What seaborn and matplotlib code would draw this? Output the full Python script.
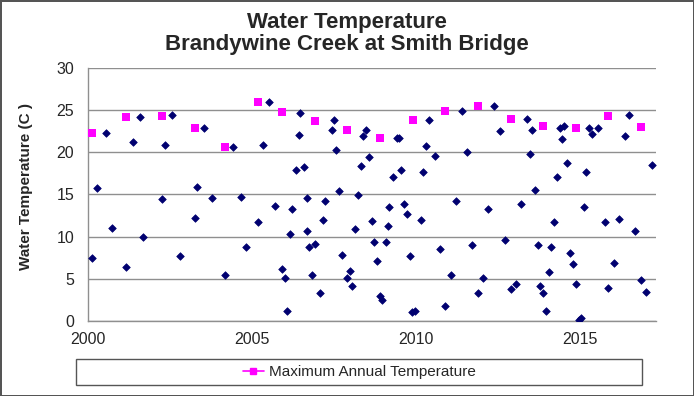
"""Water temperature scatter: Brandywine Creek at Smith Bridge."""

import matplotlib
matplotlib.use("Agg")
import matplotlib.pyplot as plt
import seaborn as sns
from matplotlib.lines import Line2D
from matplotlib.patches import Rectangle
from matplotlib.ticker import MultipleLocator

# individual samples (decimal year, deg C)
sample_year = [
    2000.12, 2000.27, 2000.54, 2000.74, 2001.16, 2001.37, 2001.59, 2001.69,
    2002.26, 2002.35, 2002.55, 2002.80, 2003.26, 2003.32, 2003.55, 2003.77,
    2004.17, 2004.41, 2004.66, 2004.82, 2005.19, 2005.34, 2005.52, 2005.70,
    2005.91, 2006.02, 2006.07, 2006.16, 2006.23, 2006.33, 2006.42, 2006.47,
    2006.59, 2006.67, 2006.69, 2006.74, 2006.83, 2006.92, 2007.06, 2007.16,
    2007.23, 2007.43, 2007.50, 2007.57, 2007.65, 2007.74, 2007.91, 2008.00,
    2008.06, 2008.15, 2008.24, 2008.31, 2008.40, 2008.48, 2008.57, 2008.67,
    2008.72, 2008.80, 2008.90, 2008.98, 2009.08, 2009.14, 2009.19, 2009.31,
    2009.43, 2009.48, 2009.56, 2009.65, 2009.74, 2009.81, 2009.89, 2009.98,
    2010.14, 2010.21, 2010.31, 2010.40, 2010.57, 2010.72, 2010.88, 2011.06,
    2011.23, 2011.39, 2011.55, 2011.71, 2011.88, 2012.06, 2012.20, 2012.39,
    2012.55, 2012.72, 2012.89, 2013.04, 2013.21, 2013.38, 2013.48, 2013.55,
    2013.62, 2013.71, 2013.78, 2013.87, 2013.97, 2014.06, 2014.12, 2014.22,
    2014.29, 2014.38, 2014.46, 2014.53, 2014.61, 2014.70, 2014.78, 2014.89,
    2014.96, 2015.02, 2015.12, 2015.20, 2015.28, 2015.37, 2015.55, 2015.77,
    2015.86, 2016.03, 2016.19, 2016.39, 2016.51, 2016.69, 2016.86, 2017.03,
    2017.19,
]
sample_temp = [
    7.5, 15.7, 22.3, 11.0, 6.4, 21.2, 24.2, 9.9,
    14.4, 20.8, 24.4, 7.7, 12.2, 15.9, 22.9, 14.5,
    5.5, 20.6, 14.7, 8.7, 11.7, 20.8, 25.9, 13.6,
    6.1, 5.05, 1.2, 10.3, 13.2, 17.9, 22.0, 24.65,
    18.2, 14.5, 10.7, 8.8, 5.4, 9.1, 3.35, 12.0,
    14.2, 22.6, 23.75, 20.2, 15.4, 7.85, 5.05, 5.9,
    4.2, 10.85, 14.9, 18.4, 21.9, 22.6, 19.4, 11.8,
    9.3, 7.1, 2.95, 2.5, 9.3, 11.3, 13.5, 17.1,
    21.7, 21.6, 17.9, 13.9, 12.7, 7.65, 1.05, 1.2,
    11.95, 17.6, 20.7, 23.8, 19.5, 8.5, 1.8, 5.4,
    14.2, 24.9, 20.0, 8.95, 3.35, 5.1, 13.25, 25.5,
    22.45, 9.55, 3.75, 4.35, 13.9, 23.9, 19.8, 22.6,
    15.5, 9.0, 4.2, 3.3, 1.15, 5.85, 8.8, 11.7,
    17.1, 22.8, 21.5, 23.1, 18.7, 8.05, 6.7, 4.4,
    0.1, 0.3, 13.55, 17.6, 22.8, 22.1, 22.8, 11.7,
    3.95, 6.9, 12.1, 21.9, 24.35, 10.65, 4.9, 3.45,
    18.5,
]

# maximum annual temperature
max_year = [
    2000.13, 2001.17, 2002.27, 2003.26, 2004.18, 2005.19, 2005.91, 2006.92,
    2007.90, 2008.91, 2009.90, 2010.90, 2011.90, 2012.90, 2013.88, 2014.89,
    2015.87, 2016.87,
]
max_temp = [
    22.3, 24.1, 24.3, 22.9, 20.6, 25.9, 24.7, 23.7,
    22.6, 21.7, 23.8, 24.9, 25.5, 23.9, 23.1, 22.8,
    24.3, 23.0,
]

NAVY = "#000070"
MAGENTA = "#FF00FF"
GRID = "#8f8f8f"

sns.set_style("white")
plt.rcParams["font.family"] = ["Liberation Sans", "DejaVu Sans"]

fig = plt.figure(figsize=(6.94, 3.96), dpi=100)
fig.patch.set_edgecolor("#555555")
fig.patch.set_linewidth(2)
ax = fig.add_axes([0.1268, 0.1894, 0.8184, 0.6401])

sns.scatterplot(x=sample_year, y=sample_temp, ax=ax, marker="D", s=15,
                color=NAVY, edgecolor=NAVY, linewidth=0.5, zorder=3)
sns.scatterplot(x=max_year, y=max_temp, ax=ax, marker="s", s=36,
                color=MAGENTA, edgecolor=MAGENTA, linewidth=0, zorder=4)

ax.set_xlim(2000, 2017.32)
ax.set_ylim(0, 30)
ax.xaxis.set_major_locator(MultipleLocator(5))
ax.xaxis.set_minor_locator(MultipleLocator(1))
ax.yaxis.set_major_locator(MultipleLocator(5))
ax.yaxis.set_minor_locator(MultipleLocator(1))
ax.grid(axis="y", which="major", color=GRID, linewidth=1)
ax.set_axisbelow(True)

for side in ["top", "right"]:
    ax.spines[side].set_visible(False)
for side in ["left", "bottom"]:
    ax.spines[side].set_color(GRID)
    ax.spines[side].set_linewidth(1)

ax.tick_params(axis="x", which="major", direction="inout", length=8,
               color=GRID, labelsize=11.5, pad=4)
ax.tick_params(axis="x", which="minor", direction="out", length=3, color=GRID)
ax.tick_params(axis="y", which="major", direction="out", length=6,
               color=GRID, labelsize=11.5, pad=4)
ax.tick_params(axis="y", which="minor", direction="in", length=3, color=GRID)

ax.set_ylabel("Water Temperature (C )", fontsize=11, fontweight="bold")
ax.yaxis.set_label_coords(-0.097, 0.532)

fig.suptitle("Water Temperature\nBrandywine Creek at Smith Bridge",
             y=1 - 33.5 / 396, va="center", fontsize=16, fontweight="bold",
             linespacing=1.12)

# legend box spanning the width under the axis
box = [76 / 694, 1 - 385 / 396, 566 / 694, 26 / 396]
fig.patches.append(Rectangle((box[0], box[1]), box[2], box[3],
                             transform=fig.transFigure, fill=False,
                             edgecolor="#555555", linewidth=1))
handle = Line2D([], [], color=MAGENTA, marker="s", markersize=4.5,
                linewidth=1.2, label="Maximum Annual Temperature")
fig.legend(handles=[handle], loc="center", bbox_to_anchor=box,
           frameon=False, fontsize=11, handlelength=1.4, handletextpad=0.3)

plt.savefig("out.png", dpi=100)
plt.close()
